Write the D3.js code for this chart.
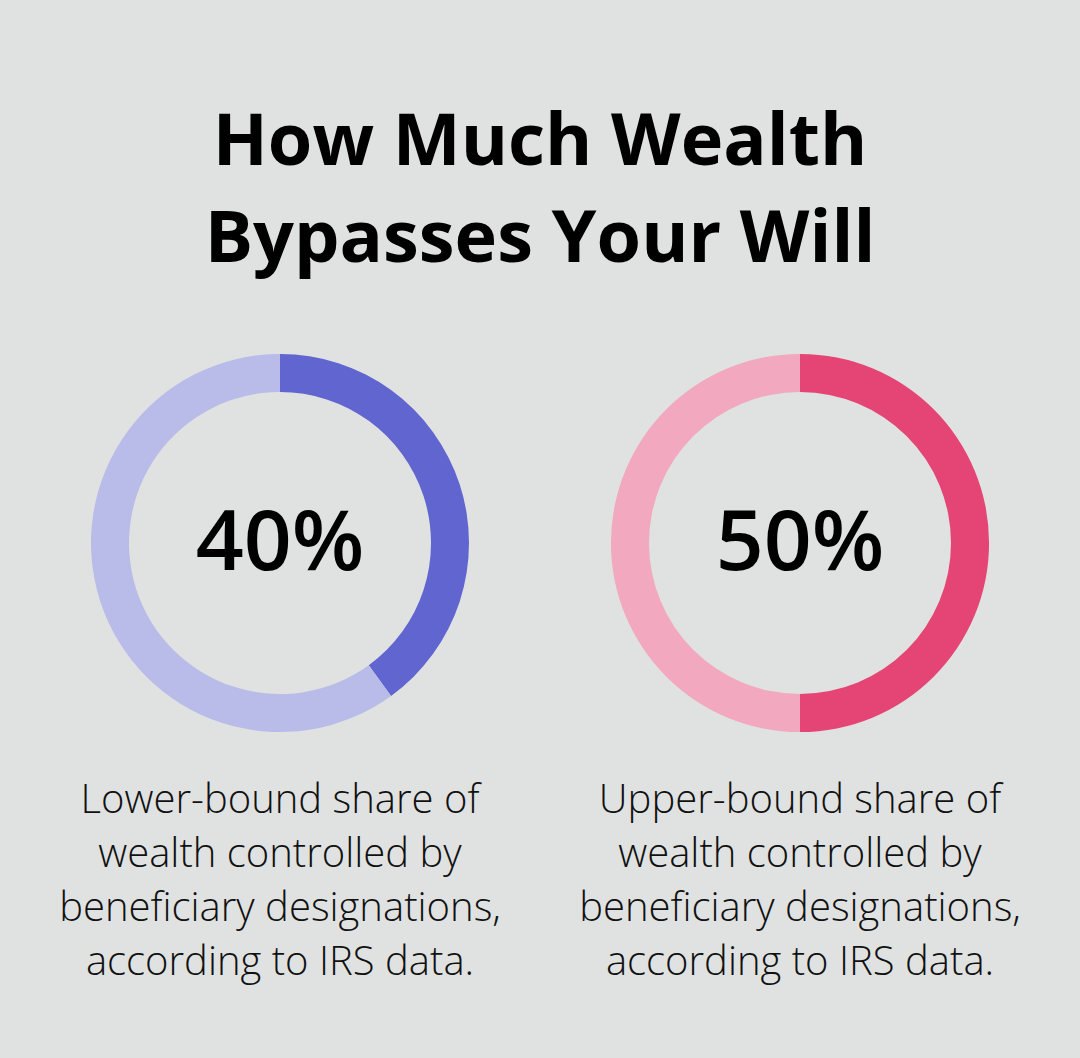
<!DOCTYPE html>
<html>
<head>
<meta charset="utf-8">
<script src="https://cdn.jsdelivr.net/npm/d3@7"></script>
<style>
  html, body { margin: 0; padding: 0; background: #e0e2e1; }
  svg { display: block; }
</style>
</head>
<body>
<svg id="chart"></svg>
<script>
// chart data
const titleLines = ['How Much Wealth', 'Bypasses Your Will']
const shares = [40, 50]
const labels = [
    ['Lower-bound share of', 'wealth controlled by', 'beneficiary designations,', 'according to IRS data.'],
    ['Upper-bound share of', 'wealth controlled by', 'beneficiary designations,', 'according to IRS data.'],
]
const mainColors = ['#6065cf', '#e44575']
const trackColors = ['#b9bbe9', '#f2a8bf']

const width = 1080
const height = 1058

const svg = d3.select('#chart').attr('width', width).attr('height', height)

svg.append('rect')
    .attr('width', width)
    .attr('height', height)
    .attr('fill', '#e0e2e1')

// title
svg.append('g')
    .selectAll('text')
    .data(titleLines)
    .join('text')
    .attr('x', width / 2)
    .attr('y', (d, i) => 165 + i * 97)
    .attr('text-anchor', 'middle')
    .style('font-family', '"Open Sans", sans-serif')
    .style('font-weight', 700)
    .style('font-size', '72px')
    .style('fill', '#000')
    .text(d => d)

// one donut per value
const xScale = d3.scalePoint()
    .domain(d3.range(shares.length))
    .range([280, 800])

const outerR = 189
const innerR = 151
const cy = 543

const pie = d3.pie().sort(null).value(d => d)
const arc = d3.arc().innerRadius(innerR).outerRadius(outerR)

const donuts = svg.append('g')
    .selectAll('g')
    .data(shares)
    .join('g')
    .attr('transform', (d, i) => `translate(${xScale(i)},${cy})`)

donuts.each(function (d, i) {
    let g = d3.select(this)
    g.selectAll('path')
        .data(pie([d, 100 - d]))
        .join('path')
        .attr('d', arc)
        .attr('fill', (p, j) => j === 0 ? mainColors[i] : trackColors[i])

    g.append('text')
        .attr('x', 0)
        .attr('y', 27)
        .attr('text-anchor', 'middle')
        .style('font-family', '"Open Sans", sans-serif')
        .style('font-weight', 600)
        .style('font-size', '84px')
        .style('fill', '#000')
        .text(d + '%')

    g.append('g')
        .selectAll('text')
        .data(labels[i])
        .join('text')
        .attr('x', 0)
        .attr('y', (t, k) => 813 - cy + k * 54)
        .attr('text-anchor', 'middle')
        .style('font-family', '"Open Sans", sans-serif')
        .style('font-weight', 300)
        .style('font-size', '40px')
        .style('fill', '#111')
        .text(t => t)
})
</script>
</body>
</html>
